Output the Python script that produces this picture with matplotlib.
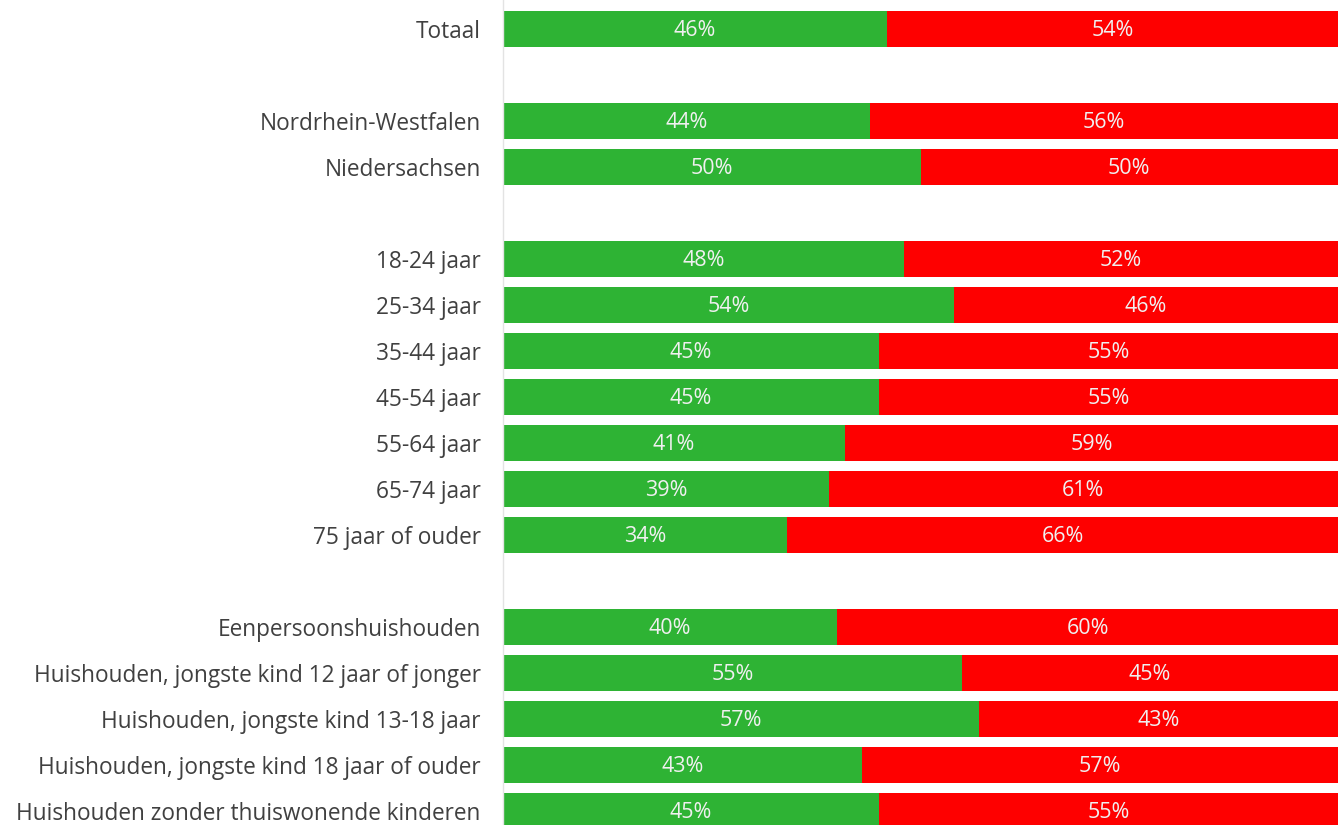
import matplotlib
matplotlib.use("Agg")
import matplotlib.pyplot as plt

# categories with None for spacer rows between groups
categories = [
    "Totaal", None,
    "Nordrhein-Westfalen", "Niedersachsen", None,
    "18-24 jaar", "25-34 jaar", "35-44 jaar", "45-54 jaar",
    "55-64 jaar", "65-74 jaar", "75 jaar of ouder", None,
    "Eenpersoonshuishouden",
    "Huishouden, jongste kind 12 jaar of jonger",
    "Huishouden, jongste kind 13-18 jaar",
    "Huishouden, jongste kind 18 jaar of ouder",
    "Huishouden zonder thuiswonende kinderen",
]
green_vals = [46, None, 44, 50, None, 48, 54, 45, 45, 41, 39, 34, None, 40, 55, 57, 43, 45]
red_vals = [54, None, 56, 50, None, 52, 46, 55, 55, 59, 61, 66, None, 60, 45, 43, 57, 55]

GREEN = "#2eb334"
RED = "#fe0000"

plt.rcParams["font.family"] = ["Open Sans", "DejaVu Sans"]

fig = plt.figure(figsize=(13.38, 8.25), dpi=100)
ax = fig.add_axes([503 / 1338, 0, 1 - 503 / 1338, 1])

ys = [i for i, c in enumerate(categories) if c is not None]
g = [green_vals[i] for i in ys]
r = [red_vals[i] for i in ys]

ax.barh(ys, g, height=0.78, color=GREEN, edgecolor="none")
ax.barh(ys, r, left=g, height=0.78, color=RED, edgecolor="none")

for y, gv, rv in zip(ys, g, r):
    ax.text(gv / 2, y + 0.03, f"{gv}%", ha="center", va="center", color="#f0f0f0", fontsize=15.5)
    ax.text(gv + rv / 2, y + 0.03, f"{rv}%", ha="center", va="center", color="#f0f0f0", fontsize=15.5)

ax.set_xlim(0, 100)
ax.set_ylim(17.30, -0.63)
ax.set_yticks(ys)
ax.set_yticklabels([categories[i] for i in ys], fontsize=16.3, color="#404040")
ax.tick_params(axis="y", length=0, pad=16)
ax.set_xticks([])
for s in ["top", "right", "bottom"]:
    ax.spines[s].set_visible(False)
ax.spines["left"].set_color("#e3e3e3")
ax.spines["left"].set_linewidth(1)

fig.savefig("out.png", dpi=100)
